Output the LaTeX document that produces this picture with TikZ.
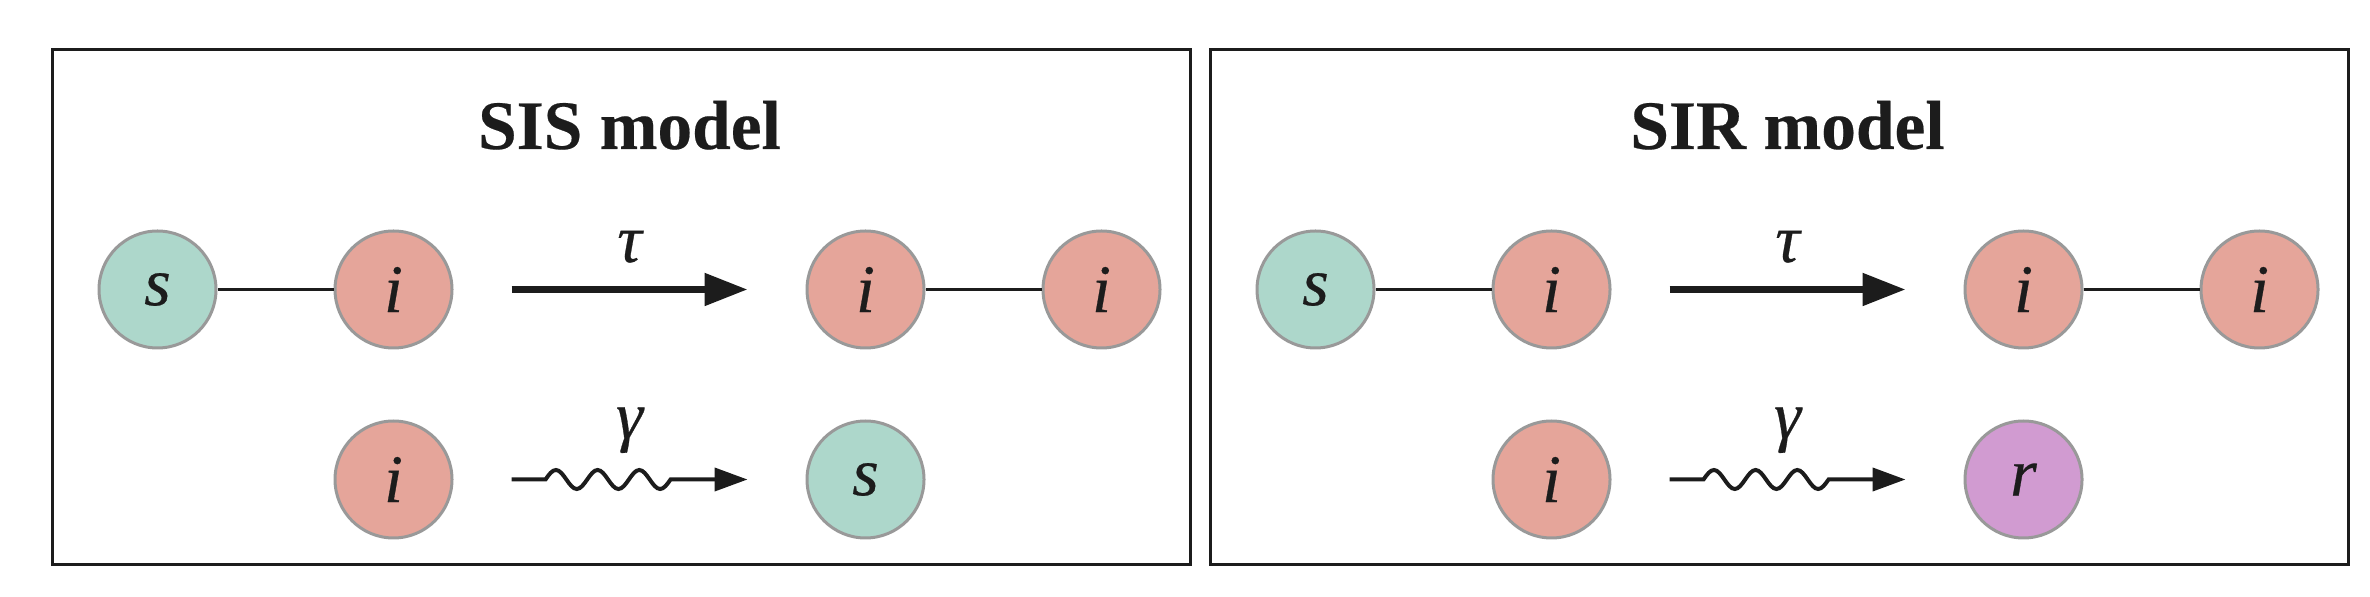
\documentclass[tikz,border=0pt]{standalone}
\usepackage{fontspec}
\setmainfont{Liberation Serif}
\newfontfamily\letterfont[FakeBold=0.4]{Liberation Serif}
\newfontfamily\titlefont[FakeBold=0.3]{Liberation Serif}
\usetikzlibrary{arrows.meta,calc}
\definecolor{sus}{HTML}{ADD7CB}
\definecolor{inf}{HTML}{E5A59A}
\definecolor{rec}{HTML}{D19BD1}
\definecolor{rim}{HTML}{999999}
\definecolor{ink}{HTML}{1C1C1C}
\begin{document}
\begin{tikzpicture}[x=0.5pt,y=-0.5pt,
  agent/.style={circle, minimum size=58.5pt, inner sep=0pt, line width=1.5pt, draw=rim, text=ink,
    font=\fontsize{34}{40}\letterfont\itshape},
  snode/.style={agent, fill=sus},
  inode/.style={agent, fill=inf},
  rnode/.style={agent, fill=rec},
  panel/.style={draw=ink, line width=1.35pt},
  title/.style={font=\fontsize{34.7}{40}\titlefont\bfseries, text=ink, anchor=base, inner sep=0pt},
  link/.style={draw=ink, line width=1.5pt},
  infect/.style={draw=ink, line width=3.5pt, -{Triangle[length=21.5pt,width=15.7pt]},
    shorten <=29pt, shorten >=29pt},
  recover/.style={draw=ink, line width=2pt, -{Triangle[length=16.5pt,width=11.5pt]}},
  rate/.style={font=\fontsize{34}{40}\letterfont\itshape, anchor=base, inner sep=0pt, text=ink}]
\useasboundingbox (0,0) rectangle (2370,597);
\def\q{10.42}\def\am{9.5}

% ---------- SIS panel ----------
\draw[panel] (52.7,49.5) rectangle (1190.7,564.7);
\node[title] (tsis) at (629.5,149) {SIS model};
\node[snode] (a1) at (157.5,289.5) {s};
\node[inode] (a2) at (393.5,289.5) {i};
\node[inode] (a3) at (865.5,289.5) {i};
\node[inode] (a4) at (1101.5,289.5) {i};
\node[inode] (a5) at (393.5,479.5) {i};
\node[snode] (a6) at (865.5,479.5) {s};
\draw[link] (a1) -- (a2);
\draw[link] (a3) -- (a4);
\draw[infect] (a2) -- node[rate, yshift=13.75pt] (tau1) {τ} (a3);
\coordinate (wa1) at ([xshift=29pt]a5.east);
\coordinate (wb1) at ([xshift=-29pt]a6.west);
\draw[recover] (wa1) -- ++(34,0)
  sin ++(\q,-\am) cos ++(\q,\am) sin ++(\q,\am) cos ++(\q,-\am)
  sin ++(\q,-\am) cos ++(\q,\am) sin ++(\q,\am) cos ++(\q,-\am)
  sin ++(\q,-\am) cos ++(\q,\am) sin ++(\q,\am) cos ++(\q,-\am)
  -- (wb1);
\node[rate] (gam1) at ($(wa1)!0.5!(wb1)+(0,-41)$) {γ};

% ---------- SIR panel ----------
\draw[panel] (1210.7,49.5) rectangle (2348.5,564.7);
\node[title] (tsir) at (1787.5,149) {SIR model};
\node[snode] (b1) at (1315.5,289.5) {s};
\node[inode] (b2) at (1551.5,289.5) {i};
\node[inode] (b3) at (2023.5,289.5) {i};
\node[inode] (b4) at (2259.5,289.5) {i};
\node[inode] (b5) at (1551.5,479.5) {i};
\node[rnode] (b6) at (2023.5,479.5) {r};
\draw[link] (b1) -- (b2);
\draw[link] (b3) -- (b4);
\draw[infect] (b2) -- node[rate, yshift=13.75pt] (tau2) {τ} (b3);
\coordinate (wa2) at ([xshift=29pt]b5.east);
\coordinate (wb2) at ([xshift=-29pt]b6.west);
\draw[recover] (wa2) -- ++(34,0)
  sin ++(\q,-\am) cos ++(\q,\am) sin ++(\q,\am) cos ++(\q,-\am)
  sin ++(\q,-\am) cos ++(\q,\am) sin ++(\q,\am) cos ++(\q,-\am)
  sin ++(\q,-\am) cos ++(\q,\am) sin ++(\q,\am) cos ++(\q,-\am)
  -- (wb2);
\node[rate] (gam2) at ($(wa2)!0.5!(wb2)+(0,-41)$) {γ};
\end{tikzpicture}
\end{document}
